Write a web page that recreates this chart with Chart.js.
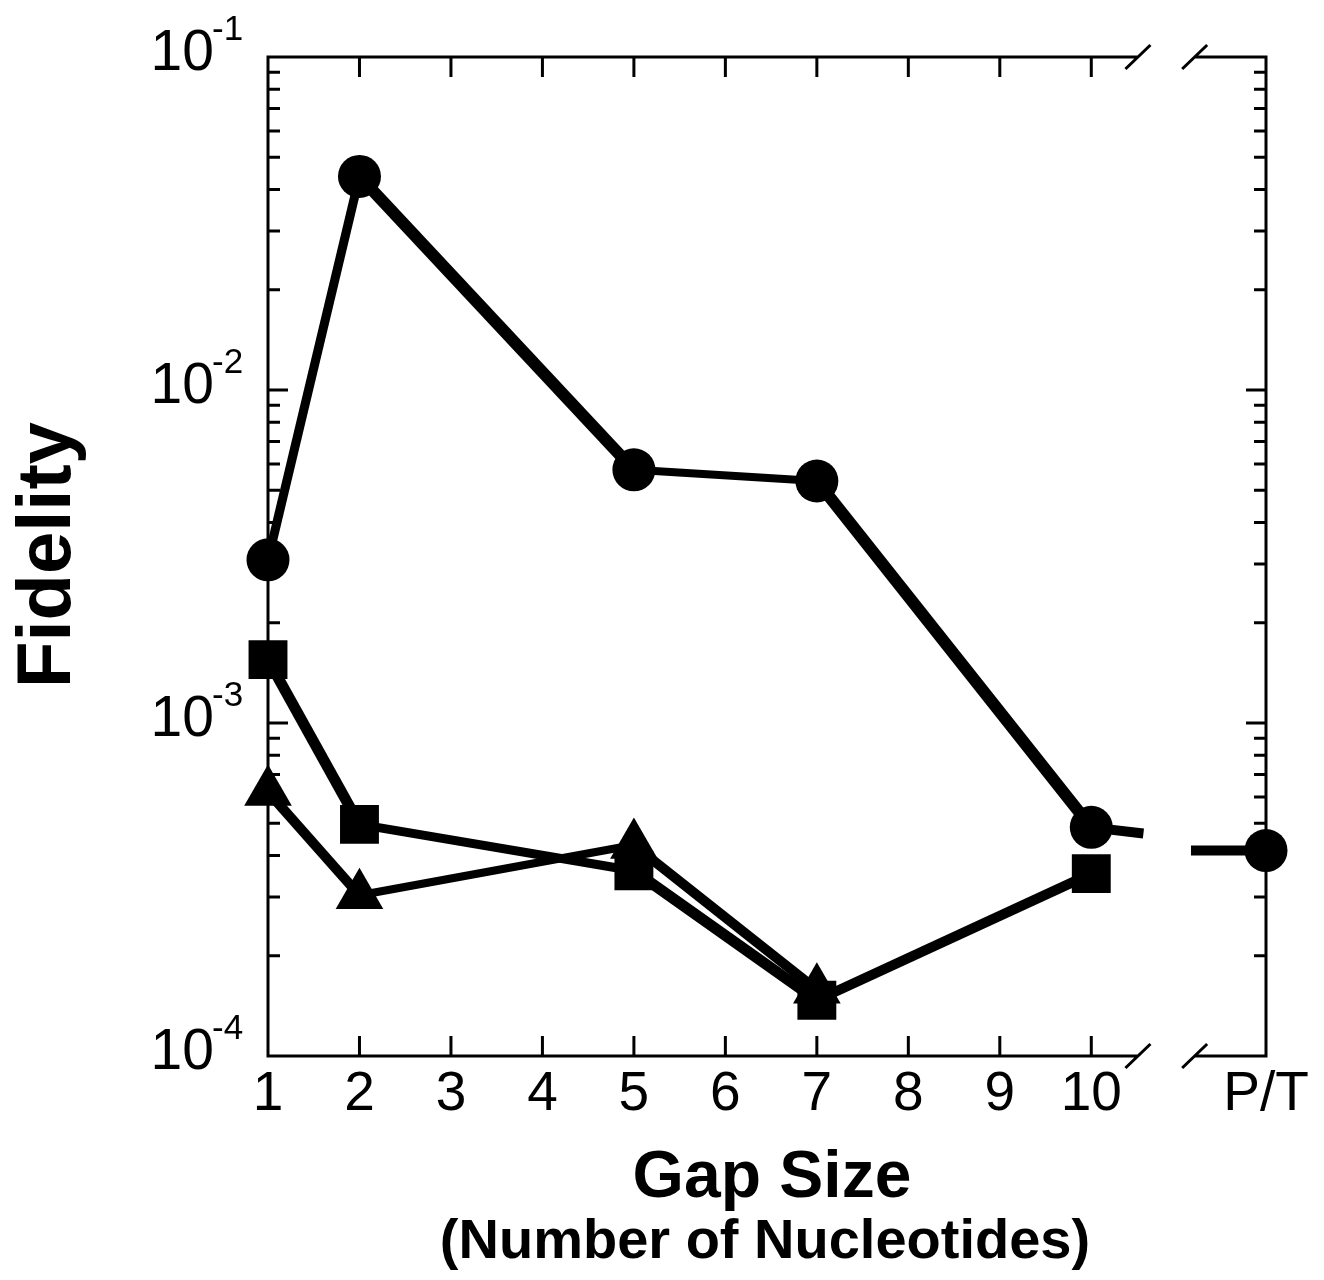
<!DOCTYPE html>
<html>
<head>
<meta charset="utf-8">
<title>Fidelity vs Gap Size</title>
<script src="https://cdn.jsdelivr.net/npm/chart.js@4.4.1/dist/chart.umd.min.js"></script>
<style>
  html, body { margin: 0; padding: 0; background: #fff; }
  canvas { display: block; }
</style>
</head>
<body>
<canvas id="gapChart" width="1324" height="1280"></canvas>
<script>
// Data
const gapSizes = [1, 2, 5, 7, 10];
const ptPosition = 11.91;            // P/T column sits at the right edge
const circleValues = [0.00309, 0.0438, 0.00576, 0.00533, 0.000486];
const circlePT = 0.000414;
// the 10 -> P/T line is interrupted by the axis break
const circleBreakX = [10.57, 11.09];
const circleBreakValues = [0.000466, 0.000414];
const squareValues = [0.00155, 0.000496, 0.000360, 0.000147, 0.000353];
const triangleGaps = [1, 2, 5, 7];
const triangleValues = [0.000621, 0.000304, 0.000430, 0.000158];

// Axes
const xTickValues = [1, 2, 3, 4, 5, 6, 7, 8, 9, 10, ptPosition];
const yTickExponents = [-4, -3, -2, -1];
const axisBreak = [10.51, 11.13];

const FONT = "'Liberation Sans', Arial, sans-serif";

const circleData = gapSizes.map((g, i) => ({ x: g, y: circleValues[i] }))
  .concat([
    { x: circleBreakX[0], y: circleBreakValues[0], bare: true },
    { x: (circleBreakX[0] + circleBreakX[1]) / 2, y: null, bare: true },
    { x: circleBreakX[1], y: circleBreakValues[1], bare: true },
    { x: ptPosition, y: circlePT }
  ]);
const squareData = gapSizes.map((g, i) => ({ x: g, y: squareValues[i] }));
const triangleData = triangleGaps.map((g, i) => ({ x: g, y: triangleValues[i] }));

// stroke weight per segment, as it looks in the figure
const circleWidths = [9, 12, 8, 12, 10, 10, 10];
const squareWidths = [11, 9, 11, 10];
const triangleWidths = [10, 8, 10];

function series(data, style, radius, widths) {
  return {
    data: data,
    borderColor: '#000',
    backgroundColor: '#000',
    borderWidth: 10,
    segment: { borderWidth: ctx => widths[ctx.p0DataIndex] || 10 },
    pointStyle: style,
    pointRadius: ctx => (ctx.raw && ctx.raw.bare ? 0 : radius),
    pointBorderWidth: 0,
    pointBackgroundColor: '#000',
    spanGaps: false,
    tension: 0,
    clip: false
  };
}

// frame, ticks, axis break and labels
const framePlugin = {
  id: 'frame',
  beforeDatasetsDraw(chart) {
    const { ctx, chartArea: a, scales: { x, y } } = chart;
    const b1 = x.getPixelForValue(axisBreak[0]);
    const b2 = x.getPixelForValue(axisBreak[1]);
    ctx.save();
    ctx.strokeStyle = '#000';
    ctx.lineWidth = 3;
    ctx.beginPath();
    ctx.moveTo(a.left, a.top - 1.5); ctx.lineTo(a.left, a.bottom + 1.5);
    ctx.moveTo(a.right, a.top - 1.5); ctx.lineTo(a.right, a.bottom + 1.5);
    [a.top, a.bottom].forEach(yy => {
      ctx.moveTo(a.left, yy); ctx.lineTo(b1, yy);
      ctx.moveTo(b2, yy); ctx.lineTo(a.right, yy);
      [b1, b2].forEach(bx => {
        ctx.moveTo(bx - 12.5, yy + 12);
        ctx.lineTo(bx + 12.5, yy - 12);
      });
    });
    // log ticks, both sides, pointing in
    yTickExponents.forEach(d => {
      for (let m = 1; m <= 9; m++) {
        const v = m * Math.pow(10, d);
        if (v > 0.1001) break;
        const py = y.getPixelForValue(v);
        const len = m === 1 ? 20 : 12;
        ctx.moveTo(a.left, py); ctx.lineTo(a.left + len, py);
        ctx.moveTo(a.right, py); ctx.lineTo(a.right - len, py);
      }
    });
    // x ticks top and bottom
    xTickValues.slice(1, 10).forEach(v => {
      const px = x.getPixelForValue(v);
      ctx.moveTo(px, a.bottom); ctx.lineTo(px, a.bottom - 20);
      ctx.moveTo(px, a.top); ctx.lineTo(px, a.top + 20);
    });
    ctx.stroke();

    // y tick labels with superscript exponents
    ctx.fillStyle = '#000';
    ctx.textBaseline = 'alphabetic';
    yTickExponents.forEach(d => {
      const py = y.getPixelForValue(Math.pow(10, d));
      ctx.font = '57px ' + FONT;
      ctx.textAlign = 'right';
      ctx.fillText('10', a.left - 54, py + 13);
      ctx.font = '35px ' + FONT;
      ctx.textAlign = 'left';
      ctx.fillText(String(d), a.left - 56, py - 17);
    });
    ctx.restore();
  },
  afterDraw(chart) {
    const { ctx, chartArea: a } = chart;
    const cx = (a.left + a.right) / 2;
    ctx.save();
    ctx.fillStyle = '#000';
    ctx.textAlign = 'center';
    ctx.textBaseline = 'alphabetic';
    ctx.font = 'bold 66px ' + FONT;
    ctx.fillText('Gap Size', cx + 5, 1197);
    ctx.font = 'bold 56px ' + FONT;
    ctx.fillText('(Number of Nucleotides)', cx - 2, 1258);
    ctx.translate(70, 555);
    ctx.rotate(-Math.PI / 2);
    ctx.font = 'bold 76px ' + FONT;
    ctx.fillText('Fidelity', 0, 0);
    ctx.restore();
  }
};

const config = {
  type: 'line',
  data: {
    datasets: [
      series(triangleData, 'triangle', 27.5, triangleWidths),
      series(squareData, 'rect', 27.5, squareWidths),
      series(circleData, 'circle', 21.5, circleWidths)
    ]
  },
  options: {
    responsive: false,
    animation: false,
    devicePixelRatio: 1,
    events: [],
    layout: { padding: { left: 268, right: 58, top: 57, bottom: 0 } },
    plugins: { legend: { display: false }, tooltip: { enabled: false } },
    scales: {
      x: {
        type: 'linear',
        min: 1,
        max: ptPosition,
        grid: { display: false, drawTicks: false },
        border: { display: false },
        afterBuildTicks: scale => { scale.ticks = xTickValues.map(v => ({ value: v })); },
        afterFit: scale => { scale.height = 224; },
        ticks: {
          autoSkip: false,
          maxRotation: 0,
          padding: 6,
          color: '#000',
          font: { family: FONT, size: 55 },
          callback: value => (value === ptPosition ? 'P/T' : String(value))
        }
      },
      y: {
        type: 'logarithmic',
        min: 0.0001,
        max: 0.1,
        display: false
      }
    }
  },
  plugins: [framePlugin]
};

const gapChart = new Chart(document.getElementById('gapChart'), config);
</script>
</body>
</html>
